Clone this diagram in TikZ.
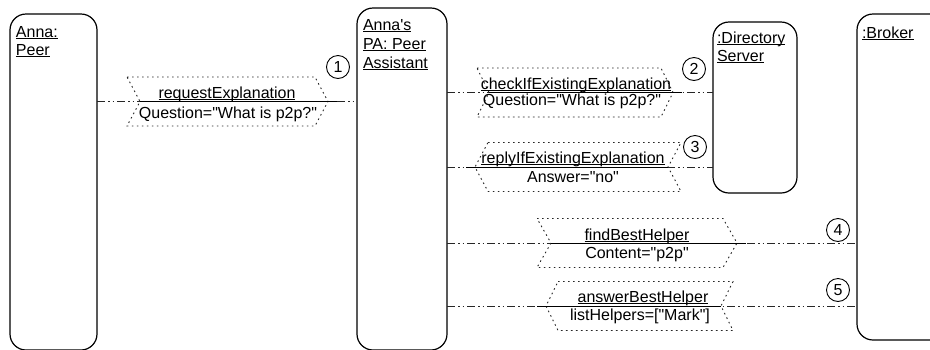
\documentclass[tikz,border=0pt]{standalone}
\usepackage{fontspec}
\newfontfamily\lsans{Liberation Sans}
% underline set just under the baseline, crossing descenders
\newcommand{\ulx}[1]{{\setbox0=\hbox{#1}\rlap{\rule[-2.2pt]{\wd0}{0.9pt}}\box0}}
% message sign pointing right: xL, xR, point depth, y of the message line
\newcommand{\sigR}[4]{%
  \draw[sigedge] (#1,#4-24.5) -- (#2,#4-24.5) -- (#2+#3,#4) -- (#2,#4+24.5)
    -- (#1,#4+24.5) -- (#1+#3,#4) -- cycle;
  \draw[arrowline] (#1+#3,#4) -- (#2+#3+9,#4);}
% message sign pointing left
\newcommand{\sigL}[4]{%
  \draw[sigedge] (#1,#4-24.5) -- (#2,#4-24.5) -- (#2-#3,#4) -- (#2,#4+24.5)
    -- (#1,#4+24.5) -- (#1-#3,#4) -- cycle;
  \draw[arrowline] (#1-#3-9,#4) -- (#2-#3,#4);}
\begin{document}
\begin{tikzpicture}[x=1pt,y=-1pt,
  every node/.style={font=\lsans\fontsize{16}{19}\selectfont, inner sep=0pt, outer sep=0pt},
  lifebox/.style={draw=black, line width=1.2pt, rounded corners=16pt, anchor=north west},
  title/.style={anchor=base west},
  lbl/.style={anchor=base},
  sigedge/.style={draw=black!85, line width=0.9pt, dash pattern=on 1.6pt off 3.4pt},
  sigline/.style={draw=black!85, line width=0.9pt,
    dash pattern=on 8pt off 3pt on 1.5pt off 3pt on 1.5pt off 3pt},
  arrowline/.style={draw=black, line width=1pt},
  seqno/.style={draw=black, line width=0.9pt, circle, minimum size=23pt}]
\useasboundingbox (0,0) rectangle (930,349);
\clip (0,0) rectangle (930,349);
\fill[white] (0,0) rectangle (930,349);

% lifelines
\node[lifebox, minimum width=87pt, minimum height=336pt] (anna) at (10,14) {};
\node[lifebox, minimum width=90pt, minimum height=342pt] (pa) at (357,8) {};
\node[lifebox, minimum width=84pt, minimum height=171pt] (ds) at (713,22) {};
\node[lifebox, minimum width=110pt, minimum height=326pt] (broker) at (857,14) {};

% lifeline titles
\node[title] (annaT1) at (16,37) {\ulx{Anna:}};
\node[title] (annaT2) at (16,55) {\ulx{Peer}};
\node[title] (paT1) at (363,30) {\ulx{Anna's}};
\node[title] (paT2) at (363,49) {\ulx{PA: Peer}};
\node[title] (paT3) at (363,68) {\ulx{Assistant}};
\node[title] (dsT1) at (717,43) {\ulx{:Directory}};
\node[title] (dsT2) at (717,61) {\ulx{Server}};
\node[title] (brT1) at (862,38) {\ulx{:Broker}};

% message lines between lifelines
\coordinate (y1) at (0,101.5);
\coordinate (y2) at (0,92.5);
\coordinate (y3) at (0,167);
\coordinate (y4) at (0,243);
\coordinate (y5) at (0,306);
\draw[sigline] (anna.east |- y1) -- (pa.west |- y1);
\draw[sigline] (pa.east |- y2) -- (ds.west |- y2);
\draw[sigline] (pa.east |- y3) -- (ds.west |- y3);
\draw[sigline] (pa.east |- y4) -- (broker.west |- y4);
\draw[sigline] (pa.east |- y5) -- (broker.west |- y5);

% message signs
\sigR{127}{315}{13}{101.5}
\sigR{477}{661}{12}{92.5}
\sigL{488}{681}{13}{167}
\sigR{537}{723}{14}{243}
\sigL{558}{733}{12}{306}

% message texts
\node[lbl] (m1a) at (227,98) {\ulx{requestExplanation}};
\node[lbl] (m1b) at (228,118) {Question="What is p2p?"};
\node[lbl] (m2a) at (576,89) {\ulx{checkIfExistingExplanation}};
\node[lbl] (m2b) at (572,105) {Question="What is p2p?"};
\node[lbl] (m3a) at (573,163) {\ulx{replyIfExistingExplanation}};
\node[lbl] (m3b) at (573,182) {Answer="no"};
\node[lbl] (m4a) at (637,240) {\ulx{findBestHelper}};
\node[lbl] (m4b) at (637,258) {Content="p2p"};
\node[lbl] (m5a) at (643,302) {\ulx{answerBestHelper}};
\node[lbl] (m5b) at (640,320) {listHelpers=["Mark"]};

% sequence numbers
\node[seqno] (n1) at (338,67) {1};
\node[seqno] (n2) at (694,69) {2};
\node[seqno] (n3) at (695,147) {3};
\node[seqno] (n4) at (838,230) {4};
\node[seqno] (n5) at (838,290) {5};
\end{tikzpicture}
\end{document}
